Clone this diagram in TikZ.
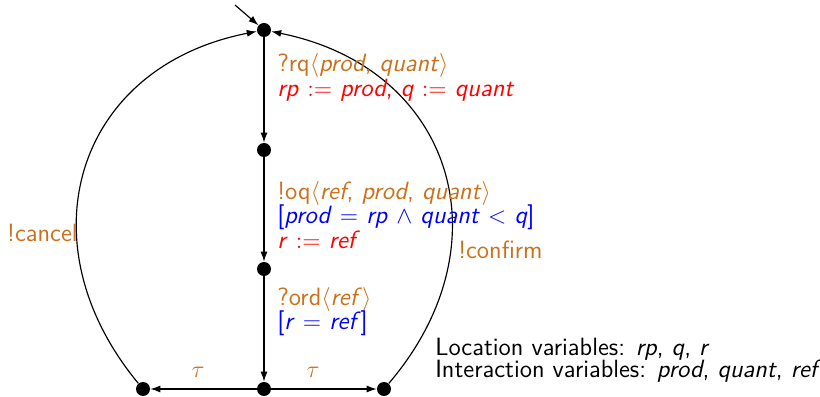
\documentclass[tikz,border=0pt]{standalone}
\usetikzlibrary{arrows.meta}
\definecolor{lblorange}{RGB}{204,112,26}
\newcommand{\vr}[1]{\textsl{#1}}
\newcommand{\tightlines}{\lineskiplimit=-20pt\relax}
\tikzset{
  dot/.style={circle,fill=black,inner sep=0pt,minimum size=8.4pt},
  edgeline/.style={line width=0.7pt,-{Latex[length=6pt,width=4.2pt]}},
  lbl/.style={anchor=west,inner sep=0pt,align=left,font=\sffamily\fontsize{15}{14.6}\selectfont\tightlines},
  varsfont/.style={font=\sffamily\fontsize{15}{13.2}\selectfont\tightlines},
}
\begin{document}
\begin{tikzpicture}[x=0.6pt,y=-0.6pt]
\path[use as bounding box] (0,0) rectangle (820,397);
\node[dot] (s0) at (264,30) {};
\node[dot] (s1) at (264,150) {};
\node[dot] (s2) at (264,269) {};
\node[dot] (s3) at (264,389) {};
\node[dot] (sl) at (143,389) {};
\node[dot] (sr) at (384,389) {};
\coordinate (init) at (235,5);
\draw[edgeline] (init) -- (s0);
\draw[edgeline] (s0) -- (s1);
\draw[edgeline] (s1) -- (s2);
\draw[edgeline] (s2) -- (s3);
\draw[edgeline] (s3) -- (sl);
\draw[edgeline] (s3) -- (sr);
\draw[edgeline] (sl) .. controls (22,243) and (75,67) .. (s0);
\draw[edgeline] (sr) .. controls (508,244) and (453,68) .. (s0);
\node[lbl] (l1) at (277,77.5) {\textcolor{lblorange}{?rq$\langle$\vr{prod}, \vr{quant}$\rangle$}\\
  \textcolor{red}{\vr{rp} $:=$ \vr{prod}, \vr{q} $:=$ \vr{quant}}};
\node[lbl] (l2) at (277,215) {\textcolor{lblorange}{!oq$\langle$\vr{ref}, \vr{prod}, \vr{quant}$\rangle$}\\
  \textcolor{blue}{[\vr{prod} $=$ \vr{rp} $\wedge$ \vr{quant} $<$ \vr{q}]}\\
  \textcolor{red}{\vr{r} $:=$ \vr{ref}}};
\node[lbl] (l3) at (277,311.5) {\textcolor{lblorange}{?ord$\langle$\vr{ref}$\rangle$}\\
  \textcolor{blue}{[\vr{r} $=$ \vr{ref}]}};
\node[lbl,text=lblorange,anchor=east] (lc) at (78,233) {!cancel};
\node[lbl,text=lblorange] (lf) at (458,250) {!confirm};
\node[lbl,text=lblorange,anchor=center] (t1) at (198,372) {$\tau$};
\node[lbl,text=lblorange,anchor=center] (t2) at (313,372) {$\tau$};
\node[lbl,varsfont] (vars) at (435,360) {Location variables: \vr{rp}, \vr{q}, \vr{r}\\
  Interaction variables: \vr{prod}, \vr{quant}, \vr{ref}};
\end{tikzpicture}
\end{document}
